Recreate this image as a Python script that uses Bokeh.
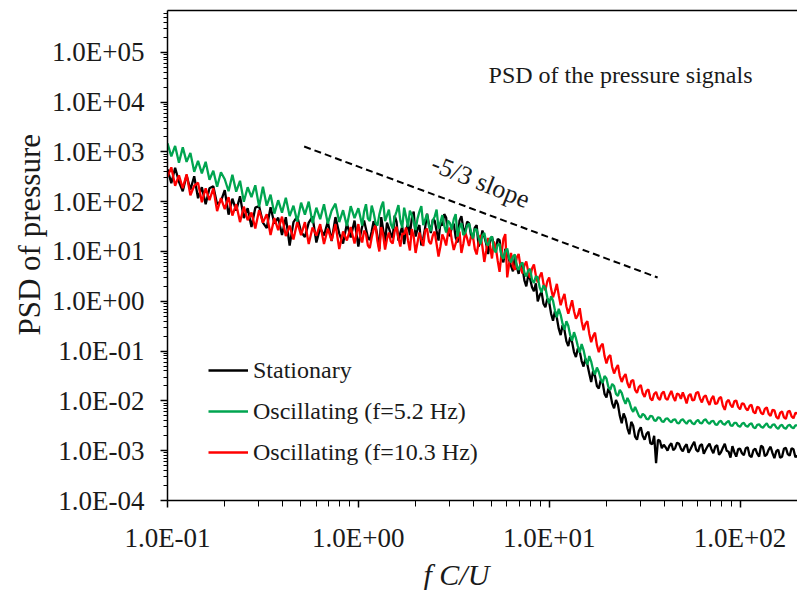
from bokeh.plotting import figure
from bokeh.models import (FixedTicker, CustomJSTickFormatter, LogAxis, Legend,
                          LegendItem, Label, Title, ColumnDataSource)
from bokeh.embed import file_html
from bokeh.resources import INLINE

# ---------------- data (log10 values) ----------------
fcu_log10 = [
    -1.00, -0.98, -0.96, -0.94, -0.92, -0.90, -0.88, -0.86, -0.84, -0.82,
    -0.80, -0.78, -0.76, -0.74, -0.72, -0.70, -0.68, -0.66, -0.64, -0.62,
    -0.60, -0.58, -0.56, -0.54, -0.52, -0.50, -0.48, -0.46, -0.44, -0.42,
    -0.40, -0.38, -0.36, -0.34, -0.32, -0.30, -0.28, -0.26, -0.24, -0.22,
    -0.20, -0.18, -0.16, -0.14, -0.12, -0.10, -0.08, -0.06, -0.04, -0.02,
    0.00, 0.01, 0.02, 0.03, 0.04, 0.05, 0.06, 0.07, 0.08, 0.09, 0.10, 0.11, 0.12, 0.13, 0.14, 0.15, 0.16, 0.17, 0.18, 0.19,
    0.20, 0.21, 0.22, 0.23, 0.24, 0.25, 0.26, 0.27, 0.28, 0.29, 0.30, 0.31, 0.32, 0.33, 0.34, 0.35, 0.36, 0.37, 0.38, 0.39,
    0.40, 0.41, 0.42, 0.43, 0.44, 0.45, 0.46, 0.47, 0.48, 0.49, 0.50, 0.51, 0.52, 0.53, 0.54, 0.55, 0.56, 0.57, 0.58, 0.59,
    0.60, 0.61, 0.62, 0.63, 0.64, 0.65, 0.66, 0.67, 0.68, 0.69, 0.70, 0.71, 0.72, 0.73, 0.74, 0.75, 0.76, 0.77, 0.78, 0.79,
    0.80, 0.81, 0.82, 0.83, 0.84, 0.85, 0.86, 0.87, 0.88, 0.89, 0.90, 0.91, 0.92, 0.93, 0.94, 0.95, 0.96, 0.97, 0.98, 0.99,
    1.00, 1.01, 1.02, 1.03, 1.04, 1.05, 1.06, 1.07, 1.08, 1.09, 1.10, 1.11, 1.12, 1.13, 1.14, 1.15, 1.16, 1.17, 1.18, 1.19,
    1.20, 1.21, 1.22, 1.23, 1.24, 1.25, 1.26, 1.27, 1.28, 1.29, 1.30, 1.31, 1.32, 1.33, 1.34, 1.35, 1.36, 1.37, 1.38, 1.39,
    1.40, 1.41, 1.42, 1.43, 1.44, 1.45, 1.46, 1.47, 1.48, 1.49, 1.50, 1.51, 1.52, 1.53, 1.54, 1.55, 1.56, 1.57, 1.58, 1.59,
    1.60, 1.61, 1.62, 1.63, 1.64, 1.65, 1.66, 1.67, 1.68, 1.69, 1.70, 1.71, 1.72, 1.73, 1.74, 1.75, 1.76, 1.77, 1.78, 1.79,
    1.80, 1.81, 1.82, 1.83, 1.84, 1.85, 1.86, 1.87, 1.88, 1.89, 1.90, 1.91, 1.92, 1.93, 1.94, 1.95, 1.96, 1.97, 1.98, 1.99,
    2.00, 2.01, 2.02, 2.03, 2.04, 2.05, 2.06, 2.07, 2.08, 2.09, 2.10, 2.11, 2.12, 2.13, 2.14, 2.15, 2.16, 2.17, 2.18, 2.19,
    2.20, 2.21, 2.22, 2.23, 2.24, 2.25, 2.26, 2.27, 2.28, 2.29, 2.30,
]

stationary_log10 = [
    2.65, 2.37, 2.68, 2.40, 2.21, 2.53, 2.24, 2.51, 2.07, 2.29,
    1.95, 2.27, 2.31, 1.95, 2.01, 2.23, 1.74, 2.06, 1.82, 2.11,
    1.67, 1.87, 1.49, 1.88, 1.91, 1.58, 1.47, 1.89, 1.56, 1.68,
    1.33, 1.69, 1.12, 1.59, 1.70, 1.39, 1.29, 1.58, 1.70, 1.18,
    1.47, 1.32, 1.60, 1.21, 1.69, 1.36, 1.16, 1.56, 1.28, 1.62,
    1.10, 1.32, 1.50, 1.62, 1.45, 1.28, 1.23, 1.40, 1.61, 1.52, 1.31, 1.05, 1.69, 1.44, 1.19, 1.58, 1.47, 1.35, 1.27, 1.72,
    1.60, 1.22, 1.38, 1.50, 1.15, 1.42, 1.56, 1.33, 1.66, 1.80, 1.30, 1.45, 1.53, 1.12, 1.26, 1.48, 1.76, 1.55, 1.37, 1.64,
    1.62, 1.41, 1.22, 1.58, 1.52, 1.75, 1.68, 1.35, 1.31, 1.50, 1.56, 1.28, 1.18, 1.62, 1.71, 1.46, 1.40, 1.60, 1.57, 1.33,
    1.25, 1.48, 1.53, 1.10, 1.20, 1.42, 1.30, 1.15, 0.95, 1.21, 1.30, 1.12, 1.02, 1.25, 1.23, 0.90, 0.78, 1.05, 1.01, 0.82,
    0.71, 0.60, 0.89, 0.70, 0.55, 0.78, 0.67, 0.42, 0.30, 0.52, 0.45, 0.28, 0.20, 0.36, 0.00, 0.12, 0.19, -0.05, -0.12, 0.05,
    -0.02, -0.25, -0.39, -0.20, -0.33, -0.55, -0.68, -0.48, -0.58, -0.80, -0.90, -0.72, -0.82, -1.02, -1.12, -0.95, -1.00, -1.20, -1.31, -1.15,
    -1.27, -1.45, -1.62, -1.40, -1.50, -1.70, -1.75, -1.58, -1.63, -1.86, -1.93, -1.75, -1.85, -2.05, -2.15, -1.98, -2.07, -2.30, -2.45, -2.25,
    -2.35, -2.55, -2.67, -2.42, -2.50, -2.72, -2.78, -2.60, -2.53, -2.70, -2.78, -2.66, -2.62, -2.85, -2.87, -2.70, -3.25, -2.78, -2.80, -2.95,
    -2.88, -2.93, -3.00, -2.90, -2.85, -2.99, -2.95, -2.84, -2.86, -2.96, -3.01, -2.92, -2.87, -3.04, -2.97, -2.89, -2.82, -2.98, -3.02, -2.90,
    -2.87, -3.06, -2.98, -2.91, -2.86, -2.97, -3.05, -2.92, -2.89, -3.08, -3.03, -2.94, -2.86, -3.00, -3.02, -3.14, -2.91, -3.03, -3.12, -2.97,
    -2.96, -3.05, -3.09, -2.95, -2.93, -3.10, -3.13, -2.99, -2.96, -3.06, -3.12, -2.90, -2.93, -3.11, -3.08, -2.98, -2.92, -3.05, -3.15, -3.01,
    -2.98, -3.14, -3.12, -2.96, -2.94, -3.07, -3.10, -2.95, -2.97, -3.13, -3.10,
]

osc_5_2_log10 = [
    3.17, 2.91, 3.12, 2.78, 3.09, 2.80, 2.98, 2.60, 2.82, 2.57,
    2.80, 2.44, 2.62, 2.30, 2.59, 2.45, 2.21, 2.54, 2.20, 2.42,
    2.00, 2.29, 2.09, 2.33, 1.90, 2.30, 1.92, 2.14, 1.76, 2.03,
    1.78, 2.08, 1.71, 1.92, 1.60, 1.98, 1.74, 2.00, 1.57, 1.88,
    1.65, 1.95, 1.56, 1.82, 1.96, 1.59, 1.83, 1.51, 1.91, 1.67,
    1.87, 1.70, 1.52, 1.80, 1.95, 1.66, 1.61, 1.92, 1.78, 1.58, 1.52, 1.74, 1.90, 2.00, 1.61, 1.72, 1.84, 1.55, 1.46, 1.69,
    1.80, 1.93, 1.62, 1.48, 1.88, 1.70, 1.50, 1.82, 1.74, 1.60, 1.43, 1.66, 1.80, 1.91, 1.53, 1.64, 1.75, 1.50, 1.41, 1.62,
    1.70, 1.84, 1.46, 1.58, 1.73, 1.52, 1.38, 1.62, 1.57, 1.44, 1.65, 1.75, 1.30, 1.48, 1.57, 1.33, 1.37, 1.52, 1.56, 1.40,
    1.26, 1.45, 1.44, 1.28, 1.15, 1.32, 1.37, 1.18, 1.12, 1.26, 1.30, 1.05, 0.98, 1.14, 1.15, 0.92, 0.85, 1.00, 1.06, 0.86,
    0.78, 0.90, 0.94, 0.70, 0.63, 0.74, 0.78, 0.58, 0.50, 0.62, 0.65, 0.43, 0.37, 0.50, 0.48, 0.28, 0.18, 0.32, 0.27, 0.08,
    -0.04, 0.10, 0.01, -0.18, -0.32, -0.15, -0.27, -0.45, -0.57, -0.40, -0.49, -0.68, -0.79, -0.62, -0.74, -0.90, -1.03, -0.86, -0.98, -1.16,
    -1.27, -1.10, -1.21, -1.38, -1.47, -1.33, -1.42, -1.56, -1.64, -1.50, -1.55, -1.72, -1.78, -1.66, -1.70, -1.86, -1.90, -1.78, -1.84, -1.97,
    -2.06, -1.94, -2.02, -2.15, -2.22, -2.12, -2.21, -2.30, -2.34, -2.26, -2.29, -2.36, -2.37, -2.30, -2.31, -2.39, -2.40, -2.33, -2.34, -2.41,
    -2.42, -2.36, -2.35, -2.40, -2.43, -2.38, -2.37, -2.44, -2.45, -2.39, -2.37, -2.42, -2.46, -2.40, -2.39, -2.45, -2.47, -2.41, -2.38, -2.44,
    -2.45, -2.39, -2.37, -2.43, -2.46, -2.41, -2.40, -2.47, -2.48, -2.42, -2.40, -2.46, -2.48, -2.43, -2.40, -2.49, -2.50, -2.44, -2.44, -2.50,
    -2.52, -2.46, -2.44, -2.50, -2.52, -2.47, -2.45, -2.53, -2.55, -2.48, -2.47, -2.52, -2.54, -2.49, -2.45, -2.52, -2.54, -2.48, -2.47, -2.53,
    -2.56, -2.50, -2.48, -2.54, -2.56, -2.50, -2.48, -2.53, -2.55, -2.49, -2.49,
]

osc_10_3_log10 = [
    2.50, 2.69, 2.32, 2.53, 2.27, 2.55, 2.13, 2.32, 2.38, 1.99,
    2.27, 2.03, 2.27, 1.81, 2.07, 1.85, 2.09, 1.72, 1.95, 1.59,
    1.90, 1.63, 1.78, 1.46, 1.83, 1.58, 1.75, 1.33, 1.67, 1.43,
    1.70, 1.31, 1.52, 1.24, 1.59, 1.33, 1.59, 1.15, 1.48, 1.32,
    1.55, 1.15, 1.46, 1.22, 1.55, 1.05, 1.40, 1.22, 1.49, 1.16,
    1.55, 1.30, 1.18, 1.42, 1.35, 1.12, 1.07, 1.28, 1.44, 1.52, 1.21, 1.00, 1.49, 1.33, 1.04, 1.25, 1.38, 1.20, 1.16, 1.40,
    1.50, 1.27, 1.10, 1.36, 1.35, 1.48, 1.22, 1.02, 1.45, 1.30, 0.97, 1.18, 1.38, 1.24, 1.11, 1.42, 1.46, 1.20, 1.15, 1.32,
    1.40, 1.15, 0.90, 1.10, 1.34, 1.25, 1.12, 1.38, 1.48, 1.22, 1.03, 1.16, 1.27, 1.40, 0.97, 1.15, 1.39, 1.26, 1.11, 1.30,
    1.32, 1.05, 0.94, 1.18, 1.33, 1.10, 0.79, 1.02, 1.27, 1.12, 0.86, 1.20, 1.08, 0.82, 0.59, 0.95, 1.25, 1.35, 0.48, 0.75,
    0.97, 0.70, 0.63, 0.88, 0.95, 0.68, 0.56, 0.72, 0.80, 0.60, 0.47, 0.66, 0.74, 0.52, 0.38, 0.50, 0.58, 0.35, 0.22, 0.40,
    0.48, 0.25, 0.08, 0.20, 0.35, 0.12, -0.08, 0.05, 0.15, -0.10, -0.25, -0.12, 0.02, -0.20, -0.35, -0.28, -0.14, -0.40, -0.58, -0.45,
    -0.40, -0.65, -0.82, -0.70, -0.63, -0.88, -1.02, -0.90, -0.85, -1.10, -1.25, -1.12, -1.08, -1.32, -1.45, -1.35, -1.28, -1.50, -1.62, -1.52,
    -1.46, -1.64, -1.74, -1.60, -1.58, -1.78, -1.84, -1.72, -1.68, -1.85, -1.92, -1.80, -1.77, -1.95, -1.99, -1.86, -1.82, -1.94, -1.98, -1.85,
    -1.81, -1.95, -1.98, -1.88, -1.80, -1.92, -2.00, -1.85, -1.87, -1.96, -1.83, -1.93, -2.05, -1.90, -1.86, -1.99, -1.98, -1.84, -1.82, -1.95,
    -2.03, -1.92, -1.89, -2.00, -2.08, -1.96, -1.90, -2.06, -2.05, -1.95, -1.92, -2.10, -2.18, -2.02, -1.98, -2.08, -2.13, -2.01, -1.99, -2.12,
    -2.17, -2.05, -2.06, -2.15, -2.19, -2.10, -2.08, -2.22, -2.25, -2.12, -2.14, -2.24, -2.27, -2.16, -2.13, -2.26, -2.30, -2.18, -2.19, -2.32,
    -2.36, -2.24, -2.21, -2.33, -2.36, -2.22, -2.20, -2.31, -2.35, -2.24, -2.25,
]

series_labels = ["Stationary", "Oscillating (f=5.2 Hz)", "Oscillating (f=10.3 Hz)"]
series_colors = ["#000000", "#00a550", "#ff0000"]

x_axis_title = "f C/U"
y_axis_title = "PSD of pressure"
title_text = "PSD of the pressure signals"
slope_text = "-5/3 slope"

# -5/3 slope reference line end points and annotation anchors (data units)
slope_x = [0.52, 37.0]
slope_y = [1280.0, 3.0]
slope_label_xy = (4.37, 255.0)
title_label_xy = (4.81, 34200.0)

x_range = (0.1, 200.0)
y_range = (1e-4, 6.9e5)
y_major = [1e-4, 1e-3, 1e-2, 1e-1, 1e0, 1e1, 1e2, 1e3, 1e4, 1e5]
x_major = [1e-1, 1e0, 1e1, 1e2]

FONT = "Liberation Serif"
TXT = "#1a1a1a"

# ---------------- figure ----------------
p = figure(width=797, height=590, x_axis_type="log", y_axis_type="log",
           x_range=x_range, y_range=y_range, output_backend="svg",
           toolbar_location=None, min_border_left=167, min_border_right=0,
           min_border_top=10, min_border_bottom=90)
p.grid.visible = False
p.outline_line_color = None
p.background_fill_color = "white"
p.border_fill_color = "white"

x = [10 ** v for v in fcu_log10]
src = {}
for name, vals in zip(series_labels, [stationary_log10, osc_5_2_log10, osc_10_3_log10]):
    src[name] = ColumnDataSource(dict(x=x, y=[10 ** v for v in vals]))

# draw order: black, red, green on top
r_black = p.line("x", "y", source=src[series_labels[0]], color=series_colors[0], line_width=2.3)
r_red = p.line("x", "y", source=src[series_labels[2]], color=series_colors[2], line_width=2.3)
r_green = p.line("x", "y", source=src[series_labels[1]], color=series_colors[1], line_width=2.3)

# slope line
p.line(slope_x, slope_y, color="black", line_width=2, line_dash="7 4")

fmt = CustomJSTickFormatter(code="""
const e = Math.round(Math.log10(tick));
const s = e < 0 ? "-" : "+";
const a = Math.abs(e);
return "1.0E" + s + (a < 10 ? "0" : "") + a;
""")

def minors(majors, top):
    out = []
    for m in majors:
        for k in range(2, 10):
            if m * k <= top:
                out.append(m * k)
    return out

xa = p.xaxis[0]
xa.ticker = FixedTicker(ticks=x_major, minor_ticks=minors(x_major, x_range[1]))
ya = p.yaxis[0]
ya.ticker = FixedTicker(ticks=y_major, minor_ticks=minors(y_major, y_range[1]))
for ax in (xa, ya):
    ax.formatter = fmt
    ax.major_label_text_font = FONT
    ax.major_label_text_font_size = "27px"
    ax.major_label_text_color = TXT
    ax.axis_line_width = 1.5
    ax.axis_line_color = "black"
    ax.major_tick_line_width = 1.5
    ax.minor_tick_line_width = 1
    ax.major_tick_in = 0
    ax.minor_tick_in = 0

xa.major_tick_out = 7
xa.minor_tick_out = 6
xa.major_label_standoff = 15
ya.major_tick_out = 7
ya.minor_tick_out = 4
ya.major_label_standoff = 16

# top frame line only
top = LogAxis(ticker=FixedTicker(ticks=[]))
top.major_label_text_font_size = "0px"
top.major_tick_line_color = None
top.minor_tick_line_color = None
top.axis_line_width = 1.5
p.add_layout(top, "above")

# axis titles as side titles (offset from the frame's start edge)
xt = Title(text=x_axis_title, align="left", offset=256, standoff=0,
           text_font=FONT, text_font_size="30px", text_font_style="italic",
           text_color=TXT)
p.add_layout(xt, "below")
yt = Title(text=y_axis_title, align="left", offset=165, standoff=6,
           text_font=FONT, text_font_size="31px", text_font_style="normal",
           text_color=TXT)
p.add_layout(yt, "left")

# annotations
p.add_layout(Label(x=title_label_xy[0], y=title_label_xy[1], text=title_text,
                   text_font=FONT, text_font_size="24px", text_align="left",
                   text_baseline="middle", text_color=TXT))
p.add_layout(Label(x=slope_label_xy[0], y=slope_label_xy[1], text=slope_text,
                   text_font=FONT, text_font_size="26px", text_align="center",
                   text_baseline="middle", angle=-0.38, text_color=TXT))

legend = Legend(items=[LegendItem(label=series_labels[0], renderers=[r_black]),
                       LegendItem(label=series_labels[1], renderers=[r_green]),
                       LegendItem(label=series_labels[2], renderers=[r_red])],
                location=(41, 34), orientation="vertical")
legend.label_text_font = FONT
legend.label_text_font_size = "24px"
legend.label_text_color = TXT
legend.glyph_width = 40
legend.glyph_height = 28
legend.label_height = 28
legend.spacing = 13
legend.padding = 0
legend.margin = 0
legend.label_standoff = 5
legend.border_line_color = None
legend.background_fill_alpha = 0
p.add_layout(legend)

open("out.html", "w").write(file_html(p, INLINE))
